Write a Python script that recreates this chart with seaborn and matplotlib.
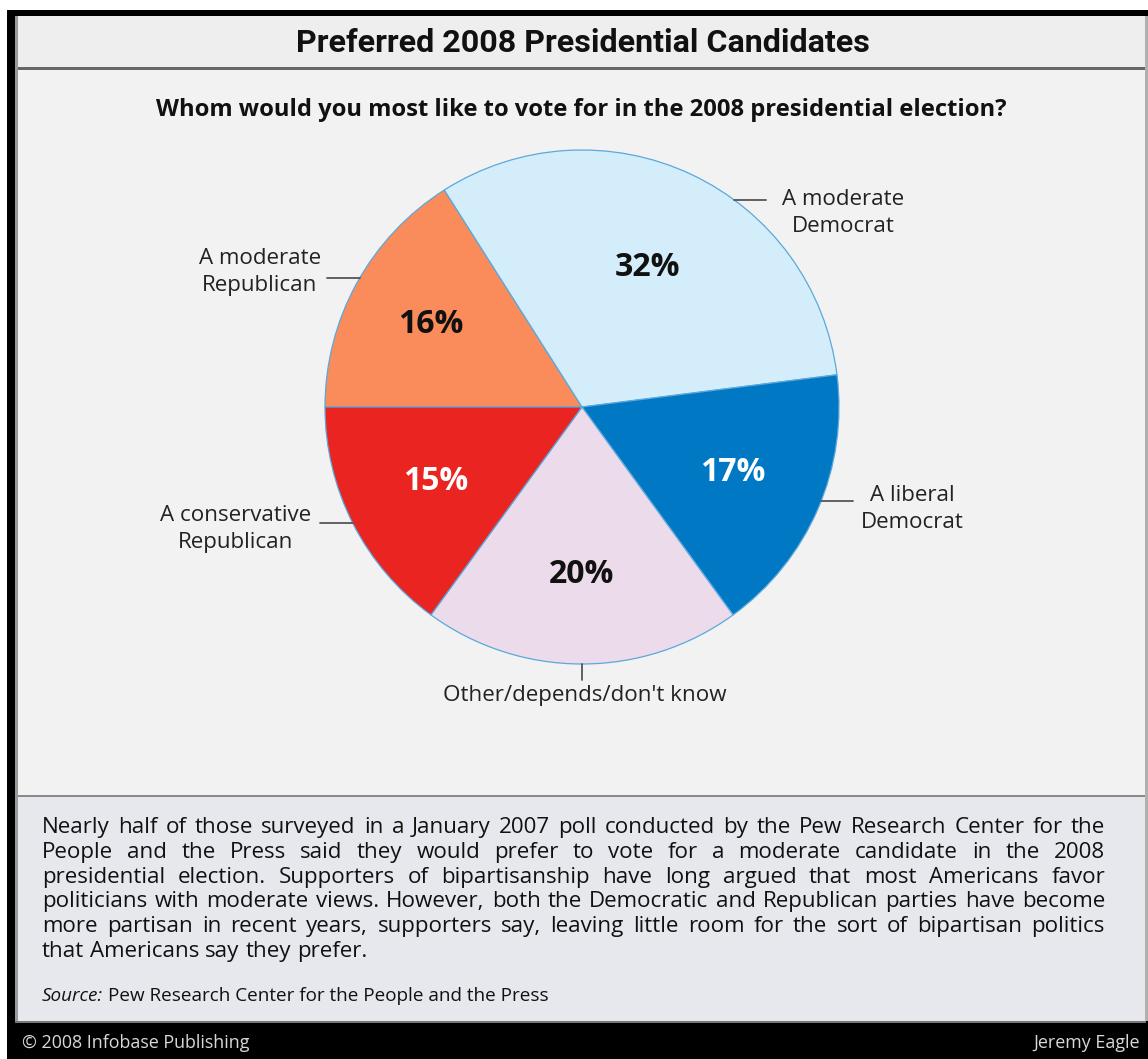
import matplotlib
matplotlib.use("Agg")
import matplotlib.pyplot as plt
from matplotlib.patches import Rectangle
from matplotlib.lines import Line2D
import numpy as np
import seaborn as sns

# ---- chart content -------------------------------------------------------
categories = ["A moderate\nRepublican", "A moderate\nDemocrat", "A liberal\nDemocrat",
              "Other/depends/don't know", "A conservative\nRepublican"]
shares = [16, 32, 17, 20, 15]
slice_colors = ["#f98c5a", "#d3eefa", "#0078c3", "#ebdbeb", "#ea2420"]
pct_colors = ["#111111", "#111111", "#ffffff", "#111111", "#ffffff"]

title = "Preferred 2008 Presidential Candidates"
question = "Whom would you most like to vote for in the 2008 presidential election?"
paragraph_lines = [
    "Nearly half of those surveyed in a January 2007 poll conducted by the Pew Research Center for the",
    "People and the Press said they would prefer to vote for a moderate candidate in the 2008",
    "presidential election. Supporters of bipartisanship have long argued that most Americans favor",
    "politicians with moderate views. However, both the Democratic and Republican parties have become",
    "more partisan in recent years, supporters say, leaving little room for the sort of bipartisan politics",
    "that Americans say they prefer.",
]
source_lead = "Source:"
source_text = "Pew Research Center for the People and the Press"
credit_left = "\u00a9 2008 Infobase Publishing"
credit_right = "Jeremy Eagle"

# ---- page setup -----------------------------------------------------------
W, H = 1148, 1059
sns.set_theme(style="white")
plt.rcParams["font.family"] = ["Open Sans", "DejaVu Sans"]

fig = plt.figure(figsize=(W / 100, H / 100), dpi=100, facecolor="white")
renderer = fig.canvas.get_renderer()


def fx(px):
    return px / W


def fy(py):
    return 1 - py / H


def band(x0, y0, x1, y1, color):
    fig.add_artist(Rectangle((fx(x0), fy(y1)), (x1 - x0) / W, (y1 - y0) / H,
                             transform=fig.transFigure, facecolor=color,
                             edgecolor="none", zorder=-5))


def width_of(t):
    return t.get_window_extent(renderer).width


def fit(t, target):
    t.set_fontsize(t.get_fontsize() * target / width_of(t))
    return t


def fitted_size(text, target, **kw):
    probe = fig.text(0, 0, text, fontsize=14, **kw)
    fit(probe, target)
    size = probe.get_fontsize()
    probe.remove()
    return size


# frame and panels
band(7, 10, W, H, "#000000")
band(15, 16, 1146, 67, "#eeeeee")
band(15, 67, 1146, 70, "#666666")
band(15, 70, 1146, 795, "#f2f2f2")
band(15, 795, 1146, 797, "#8a8a8a")
band(15, 797, 1146, 1021, "#e6e8ee")
band(15, 1021, 1146, 1023, "#777777")
band(15, 16, 18, 1021, "#9a9a9a")
band(1145, 16, 1148, 1021, "#b0b0b0")

# headings
t = fig.text(fx(583), fy(52), title, ha="center", va="baseline", fontsize=22,
             fontweight="bold", color="#111111", family=["Roboto", "DejaVu Sans"])
fit(t, 573)
t = fig.text(fx(581), fy(116), question, ha="center", va="baseline", fontsize=14,
             fontweight="bold", color="#111111")
fit(t, 852)

# ---- pie ------------------------------------------------------------------
cx, cy, R = 582, 407, 257
ax = fig.add_axes([fx(cx - R), fy(cy + R), 2 * R / W, 2 * R / H])
ax.set_facecolor("none")
wedges, _, autotexts = ax.pie(
    shares, colors=slice_colors, startangle=180, counterclock=False,
    autopct=lambda p: f"{p:.0f}%", pctdistance=0.65,
    wedgeprops=dict(edgecolor="#5aa8dc", linewidth=0.9),
    textprops=dict(fontsize=23, fontweight="bold"))
ax.set_xlim(-1, 1)
ax.set_ylim(-1, 1)
ax.set_aspect("equal")
ax.axis("off")

pct_radius = [0.67, 0.60, 0.64, 0.65, 0.64]
for w, txt, col, rr in zip(wedges, autotexts, pct_colors, pct_radius):
    mid = np.deg2rad((w.theta1 + w.theta2) / 2)
    txt.set_position((rr * np.cos(mid), rr * np.sin(mid)))
    txt.set_color(col)
    txt.set_ha("center")
    txt.set_va("center")


def d(px, py):
    return (px - cx) / R, (cy - py) / R


# category labels with short leader lines
label_size = fitted_size("A conservative", 152)

label_layout = [
    # text centre (px), leader y (px), side
    ((260, 272), 278, "left"),
    ((843, 213), 200, "right"),
    ((912, 509), 501, "right"),
    ((585, 696), None, "bottom"),
    ((236, 529), 523, "left"),
]
for name, (tc, ly, side) in zip(categories, label_layout):
    ax.text(*d(*tc), name, ha="center", va="center", fontsize=label_size,
            color="#222222", linespacing=1.32, clip_on=False)
    if side == "bottom":
        xs, ys = [cx, cx], [cy + R, cy + R + 16]
    else:
        edge = np.sqrt(R ** 2 - (ly - cy) ** 2)
        if side == "left":
            xs = [cx - edge, cx - edge - 33]
        else:
            xs = [cx + edge, cx + edge + 32]
        ys = [ly, ly]
    p = [d(x, y) for x, y in zip(xs, ys)]
    ax.add_line(Line2D([p[0][0], p[1][0]], [p[0][1], p[1][1]], color="#555555",
                       linewidth=1.3, clip_on=False))

# ---- explanatory paragraph (justified) ------------------------------------
x_left, x_right = 42, 1105
body_size = min(fitted_size(ln, 1052) for ln in paragraph_lines[:-1])
space_probe = fig.text(0, 0, "a a", fontsize=body_size)
aa = fig.text(0, 0, "aa", fontsize=body_size)
space_w = width_of(space_probe) - width_of(aa)
space_probe.remove()
aa.remove()

baseline = 833
step = 24.8
for i, line in enumerate(paragraph_lines):
    words = line.split(" ")
    ts = [fig.text(0, fy(baseline + i * step), wd, fontsize=body_size, ha="left",
                   va="baseline", color="#111111") for wd in words]
    widths = [width_of(t) for t in ts]
    last = i == len(paragraph_lines) - 1
    gap = space_w if last else (x_right - x_left - sum(widths)) / (len(words) - 1)
    x = x_left
    for t, wdt in zip(ts, widths):
        t.set_x(fx(x))
        x += wdt + gap

src_size = fitted_size(source_lead + " " + source_text, 513)
s1 = fig.text(fx(x_left), fy(1001), source_lead, fontsize=src_size, style="italic",
              ha="left", va="baseline", color="#111111")
s2 = fig.text(0, fy(1001), source_text, fontsize=src_size, ha="left",
              va="baseline", color="#111111")
s2.set_x(fx(x_left + width_of(s1) + space_w * src_size / body_size))

# ---- credit strip -----------------------------------------------------------
c1 = fig.text(fx(22), fy(1048), credit_left, fontsize=9, color="#d8d8d8",
              ha="left", va="baseline")
fit(c1, 230)
c2 = fig.text(fx(1140), fy(1048), credit_right, fontsize=c1.get_fontsize(),
              color="#d8d8d8", ha="right", va="baseline")

fig.savefig("out.png", dpi=100, facecolor="white")
